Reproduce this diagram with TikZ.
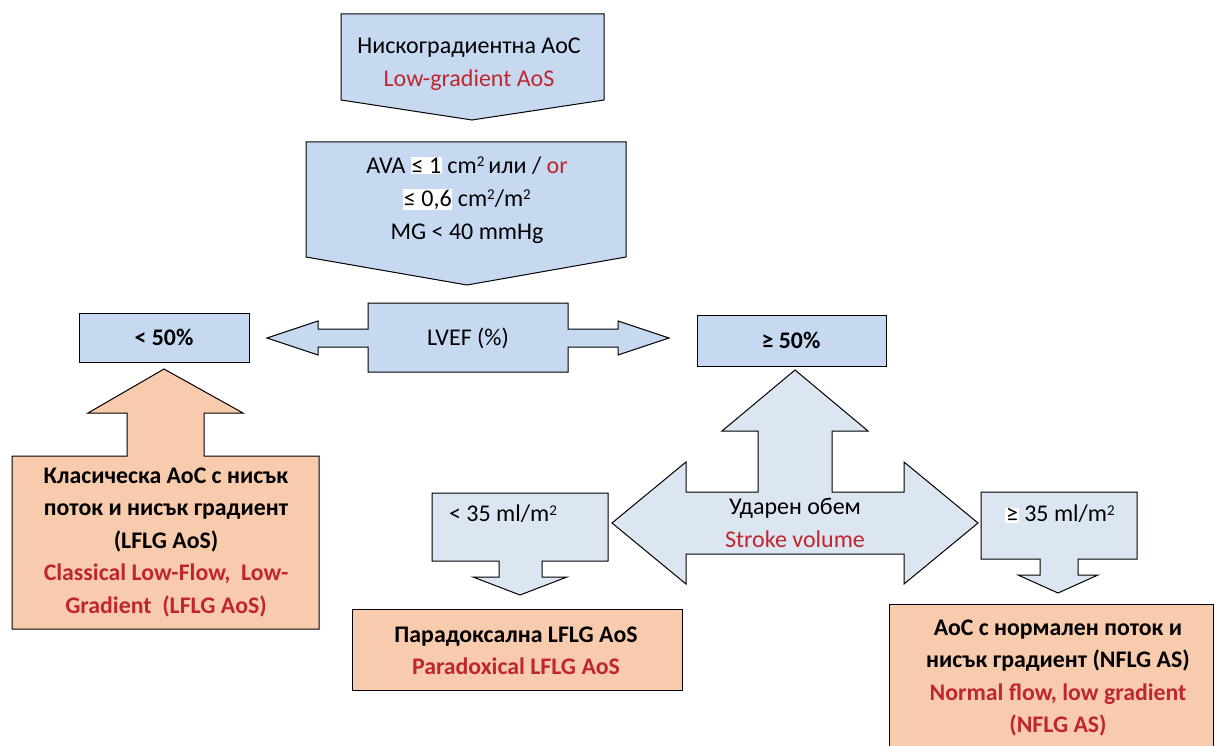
\documentclass[tikz,border=0pt]{standalone}
\usepackage{fontspec}
\setmainfont{Carlito}
\definecolor{boxblue}{RGB}{198, 217, 241}
\definecolor{paleblue}{RGB}{220, 230, 242}
\definecolor{peach}{RGB}{248, 203, 173}
\definecolor{textred}{RGB}{192, 38, 45}
\setlength{\fboxsep}{0.8pt}
\newcommand{\hl}[1]{\colorbox{white}{#1}}
\newcommand{\sq}{\raisebox{0.55ex}{\fontsize{15}{15}\selectfont 2}}

\begin{document}
\begin{tikzpicture}[x=1pt, y=-1pt,
    every node/.style={font=\fontsize{24}{33}\selectfont, align=center, inner sep=0pt},
    bluecall/.style={draw=black, line width=1pt, fill=boxblue},
    palecall/.style={draw=black, line width=1pt, fill=paleblue},
    peachbox/.style={draw=black, line width=1pt, fill=peach},
    boldtext/.style={font=\fontsize{23.8}{32.5}\selectfont\bfseries}]
  \useasboundingbox (0,0) rectangle (1215,746);
  \clip (0,0) rectangle (1215,746);

  %% TOP: low-gradient AoS
  \draw[bluecall] (341,14) -- (604,14) -- (604,100) -- (472,120) -- (341,100) -- cycle;
  \node (lowgrad) at (469,64) {Нискоградиентна АоС\\\textcolor{textred}{Low-gradient AoS}};

  %% criteria
  \draw[bluecall] (306,142) -- (626,142) -- (626,257) -- (467,285) -- (306,257) -- cycle;
  \node (criteria) at (467,200)
    {AVA \hl{≤ 1} cm\sq\,или / \textcolor{textred}{or}\\
     \hl{≤ 0,6} cm\sq/m\sq\\MG < 40 mmHg};

  %% LVEF double arrow
  \draw[bluecall] (267,338) -- (318,321) -- (318,329) -- (368,329) -- (368,303)
    -- (568,303) -- (568,329) -- (618,329) -- (618,321) -- (669,338) -- (618,355)
    -- (618,347) -- (568,347) -- (568,372) -- (368,372) -- (368,347) -- (318,347)
    -- (318,355) -- cycle;
  \node (lvef) at (468,338) {LVEF (\%)};

  \draw[bluecall] (79,313) rectangle (249,362);
  \node[boldtext] (efLow) at (164,337) {< 50\%};
  \draw[bluecall] (697,315) rectangle (886,366);
  \node[boldtext] (efHigh) at (791,340) {≥ 50\%};

  %% LEFT: classical LFLG
  \draw[peachbox] (12,456) -- (127,456) -- (127,413) -- (88,413) -- (164,369)
    -- (243,413) -- (204,413) -- (204,456) -- (319,456) -- (319,629) -- (12,629) -- cycle;
  \node[boldtext] (classical) at (166,542)
    {Класическа АоС с нисък\\поток и нисък градиент\\(LFLG AoS)\\
     \textcolor{textred}{Classical Low-Flow,\ \ Low-}\\\textcolor{textred}{Gradient\ \ (LFLG AoS)}};

  %% RIGHT: stroke volume
  \draw[palecall] (612,523) -- (686,462) -- (686,492) -- (758,492) -- (758,431)
    -- (722,431) -- (795,370) -- (868,431) -- (832,431) -- (832,492) -- (904,492)
    -- (904,462) -- (978,523) -- (904,584) -- (904,554) -- (686,554) -- (686,584) -- cycle;
  \node (stroke) at (795,523) {Ударен обем\\\textcolor{textred}{Stroke volume}};

  \draw[palecall] (432,493) -- (608,493) -- (608,561) -- (542,561) -- (542,577)
    -- (567,577) -- (520,595) -- (473,577) -- (499,577) -- (499,561) -- (432,561) -- cycle;
  \node (svLow) at (503,514) {< 35 ml/m\sq};

  \draw[palecall] (981,492) -- (1137,492) -- (1137,559) -- (1078,559) -- (1078,575)
    -- (1098,575) -- (1058,593) -- (1018,575) -- (1040,575) -- (1040,559) -- (981,559) -- cycle;
  \node (svHigh) at (1060,514) {\hl{≥} 35 ml/m\sq};

  %% outcomes
  \draw[peachbox] (352,609) rectangle (682,690);
  \node[boldtext] (paradox) at (516,651)
    {Парадоксална LFLG AoS\\\textcolor{textred}{Paradoxical LFLG AoS}};
  \draw[peachbox] (889,604) rectangle (1213,770);
  \node[boldtext] (normal) at (1058,678)
    {АоС с нормален поток и\\нисък градиент (NFLG AS)\\
     \textcolor{textred}{Normal flow, low gradient}\\\textcolor{textred}{(NFLG AS)}};
\end{tikzpicture}
\end{document}
